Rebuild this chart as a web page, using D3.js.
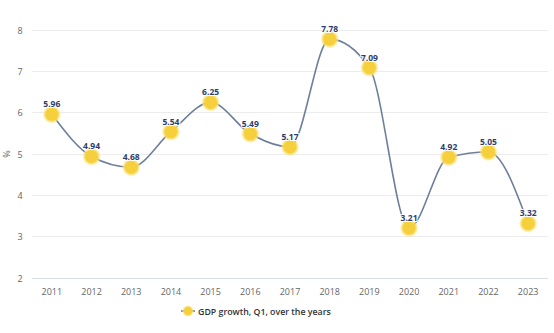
<!DOCTYPE html>
<html><head><meta charset="utf-8">
<script src="https://cdn.jsdelivr.net/npm/d3@7"></script>
<style>
html,body{margin:0;padding:0;background:#fff;}
svg{display:block;font-family:"Open Sans","Noto Sans",Arial,sans-serif;}
</style></head>
<body>
<svg id="chart" width="554" height="333"></svg>
<script>
const years = ["2011","2012","2013","2014","2015","2016","2017","2018","2019","2020","2021","2022","2023"];
const gdpGrowth = [5.96,4.94,4.68,5.54,6.25,5.49,5.17,7.78,7.09,3.21,4.92,5.05,3.32];
const yTicks = [2,3,4,5,6,7,8];
const seriesName = "GDP growth, Q1, over the years";

(function(){
const svg = d3.select("#chart");
const mLeft = 32, mRight = 548, mTop = 30, mBottom = 278;

const x = d3.scaleBand().domain(years).range([mLeft, mRight]);
const y = d3.scaleLinear().domain([2, 8]).range([mBottom, mTop]);

const defs = svg.append("defs");
const grad = defs.append("radialGradient").attr("id","glow");
grad.append("stop").attr("offset","60%").attr("stop-color","#f7d23e").attr("stop-opacity",1);
grad.append("stop").attr("offset","82%").attr("stop-color","#f9e27a").attr("stop-opacity",0.7);
grad.append("stop").attr("offset","100%").attr("stop-color","#fff3b8").attr("stop-opacity",0);

svg.append("g").selectAll("line").data(yTicks).join("line")
  .attr("x1", mLeft).attr("x2", mRight)
  .attr("y1", d => y(d)).attr("y2", d => y(d))
  .attr("stroke", d => d === 2 ? "#d8dde6" : "#ececec").attr("stroke-width", 1)
  .attr("shape-rendering","crispEdges");

svg.append("g").selectAll("text").data(yTicks).join("text")
  .attr("x", 20).attr("y", d => y(d) + 3.5)
  .attr("text-anchor","middle").attr("font-size", 9).attr("fill","#666")
  .text(d => d);

svg.append("text").attr("transform", `translate(10,${(mTop+mBottom)/2}) rotate(-90)`)
  .attr("text-anchor","middle").attr("font-size", 9).attr("fill","#666").text("%");

svg.append("g").selectAll("text").data(years).join("text")
  .attr("x", d => x(d) + x.bandwidth()/2).attr("y", 295)
  .attr("text-anchor","middle").attr("font-size", 9).attr("fill","#666")
  .text(d => d);

const data = years.map((yr, i) => ({yr, v: gdpGrowth[i]}));
const cx = d => x(d.yr) + x.bandwidth()/2;

const line = d3.line().x(cx).y(d => y(d.v)).curve(d3.curveMonotoneX);
svg.append("path").datum(data).attr("d", line)
  .attr("fill","none").attr("stroke","#6d7f9a").attr("stroke-width", 1.6);

svg.append("g").selectAll("circle").data(data).join("circle")
  .attr("cx", cx).attr("cy", d => y(d.v)).attr("r", 9.5)
  .attr("fill","url(#glow)");
svg.append("g").selectAll("circle").data(data).join("circle")
  .attr("cx", cx).attr("cy", d => y(d.v)).attr("r", 6.3)
  .attr("fill","#f6d03c");

svg.append("g").selectAll("text").data(data).join("text")
  .attr("x", cx).attr("y", d => y(d.v) - 7)
  .attr("text-anchor","middle").attr("font-size", 8.5).attr("font-weight","bold")
  .attr("fill","#2e3d6b").attr("stroke","#fff").attr("stroke-width",2).attr("paint-order","stroke")
  .text(d => d.v.toFixed(2));

const lg = svg.append("g").attr("transform","translate(0,311)");
lg.append("line").attr("x1",181).attr("x2",195).attr("y1",0).attr("y2",0)
  .attr("stroke","#6d7f9a").attr("stroke-width",1.6);
lg.append("circle").attr("cx",188).attr("cy",0).attr("r",6).attr("fill","url(#glow)");
lg.append("circle").attr("cx",188).attr("cy",0).attr("r",3.8).attr("fill","#f6d03c");
lg.append("text").attr("x",198).attr("y",3.5).attr("font-size",8.8).attr("font-weight","600")
  .attr("fill","#333").text(seriesName);
})();
</script>
</body></html>
